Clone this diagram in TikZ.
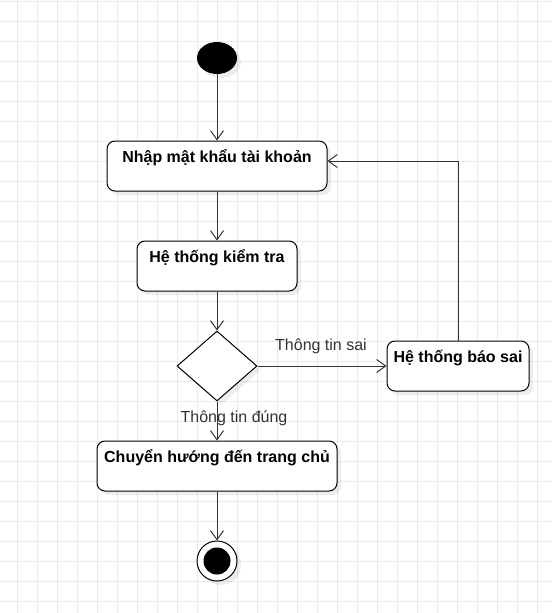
\documentclass[tikz,border=0pt]{standalone}
\usepackage{fontspec}
\setmainfont{Liberation Sans}
\usetikzlibrary{arrows.meta,shapes.geometric,shadows}
\definecolor{gridc}{HTML}{EBEBEB}
\definecolor{linec}{HTML}{333333}
\begin{document}
\begin{tikzpicture}[x=1pt,y=-1pt,
  shd/.style={drop shadow={shadow xshift=4pt,shadow yshift=-4pt,fill=black,opacity=0.07}},
  act/.style={draw=black,line width=1pt,rounded corners=8pt,fill=white,shd,
    font=\bfseries\fontsize{16}{18}\selectfont,inner xsep=0pt,inner ysep=0pt,
    text height=21pt,text depth=29pt,minimum height=50pt},
  dec/.style={draw=black,line width=1pt,diamond,fill=white,shd,minimum width=80pt,minimum height=70pt,inner sep=0pt,aspect=1.143},
  flow/.style={draw=linec,line width=1pt,-{Straight Barb[length=9pt,width=13pt,line width=1pt]}},
  lbl/.style={text=linec,font=\fontsize{16}{18}\selectfont,inner sep=0pt}]
\useasboundingbox (0,0) rectangle (552,613);
\fill[white] (0,0) rectangle (552,613);
\foreach \x in {17,37,...,552} \draw[gridc,line width=1pt] (\x,0) -- (\x,613);
\foreach \y in {1,21,...,613} \draw[gridc,line width=1pt] (0,\y) -- (552,\y);

\node[ellipse,fill=black,minimum width=40pt,minimum height=32pt,inner sep=0pt,shd] (start) at (217,58) {};
\node[act,minimum width=220pt] (b1) at (217,166) {Nhập mật khẩu tài khoản};
\node[act,minimum width=160pt] (b2) at (217,266) {Hệ thống kiểm tra};
\node[dec] (dia) at (217,366) {};
\node[act,minimum width=142pt] (b3) at (458,366) {Hệ thống báo sai};
\node[act,minimum width=240pt] (b4) at (217,466) {Chuyển hướng đến trang chủ};
\node[circle,draw=black,line width=1pt,fill=white,minimum size=40pt,inner sep=0pt,shd] (end) at (217,561) {};
\node[circle,fill=black,minimum size=27pt,inner sep=0pt] (endin) at (end.center) {};

\coordinate (b1r) at ([yshift=5pt]b1.east);
\draw[flow] (start.south) -- (b1.north);
\draw[flow] (b1.south) -- (b2.north);
\draw[flow] (b2.south) -- (dia.north);
\draw[flow] (dia.east) -- (b3.west);
\draw[flow] (dia.south) -- (b4.north);
\draw[flow] (b4.south) -- (end.north);
\draw[flow] (b3.north) |- (b1r);
\node[lbl] (lsai) at (321,346) {Thông tin sai};
\node[lbl] (ldung) at (234,418) {Thông tin đúng};
\end{tikzpicture}
\end{document}
